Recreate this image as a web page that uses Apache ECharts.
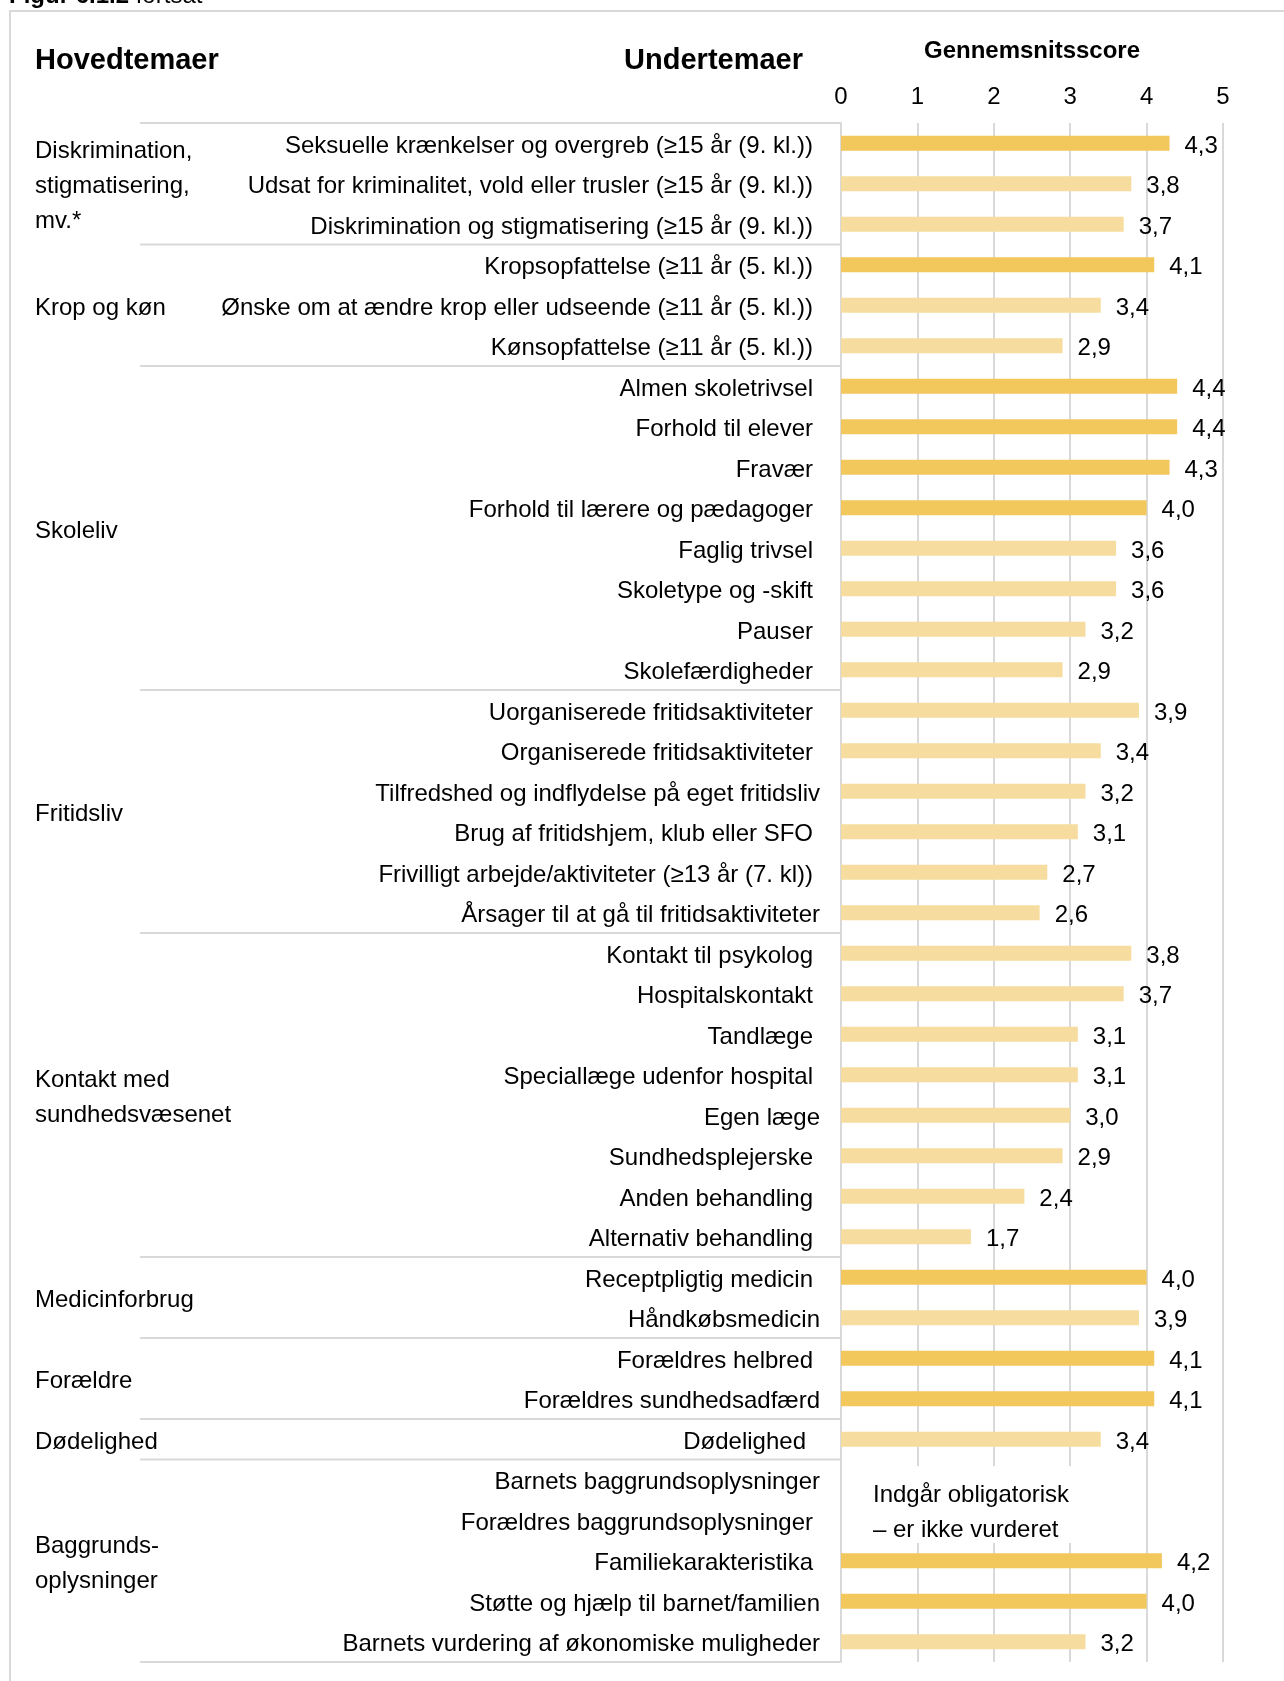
<!DOCTYPE html>
<html>
<head>
<meta charset="utf-8">
<script src="https://cdn.jsdelivr.net/npm/echarts@6/dist/echarts.min.js"></script>
<style>
  html, body { margin: 0; padding: 0; background: #ffffff; }
  #chart { width: 1284px; height: 1681px; }
</style>
</head>
<body>
<div id="chart"></div>
<script>
// Main themes and how many sub-themes each one spans
const themes = [
  'Diskrimination,\nstigmatisering,\nmv.*',
  'Krop og køn',
  'Skoleliv',
  'Fritidsliv',
  'Kontakt med\nsundhedsvæsenet',
  'Medicinforbrug',
  'Forældre',
  'Dødelighed',
  'Baggrunds-\noplysninger'
];
const themeSizes = [3, 3, 8, 6, 8, 2, 2, 1, 5];

// Sub-themes (one bar each)
const subthemes = [
  'Seksuelle krænkelser og overgreb (≥15 år (9. kl.))',
  'Udsat for kriminalitet, vold eller trusler (≥15 år (9. kl.))',
  'Diskrimination og stigmatisering (≥15 år (9. kl.))',
  'Kropsopfattelse (≥11 år (5. kl.))',
  'Ønske om at ændre krop eller udseende (≥11 år (5. kl.))',
  'Kønsopfattelse (≥11 år (5. kl.))',
  'Almen skoletrivsel',
  'Forhold til elever',
  'Fravær',
  'Forhold til lærere og pædagoger',
  'Faglig trivsel',
  'Skoletype og -skift',
  'Pauser',
  'Skolefærdigheder',
  'Uorganiserede fritidsaktiviteter',
  'Organiserede fritidsaktiviteter',
  'Tilfredshed og indflydelse på eget fritidsliv',
  'Brug af fritidshjem, klub eller SFO',
  'Frivilligt arbejde/aktiviteter (≥13 år (7. kl))',
  'Årsager til at gå til fritidsaktiviteter',
  'Kontakt til psykolog',
  'Hospitalskontakt',
  'Tandlæge',
  'Speciallæge udenfor hospital',
  'Egen læge',
  'Sundhedsplejerske',
  'Anden behandling',
  'Alternativ behandling',
  'Receptpligtig medicin',
  'Håndkøbsmedicin',
  'Forældres helbred',
  'Forældres sundhedsadfærd',
  'Dødelighed',
  'Barnets baggrundsoplysninger',
  'Forældres baggrundsoplysninger',
  'Familiekarakteristika',
  'Støtte og hjælp til barnet/familien',
  'Barnets vurdering af økonomiske muligheder'
];

// Average score per sub-theme (null = mandatory, not scored)
const scores = [
  4.3, 3.8, 3.7,
  4.1, 3.4, 2.9,
  4.4, 4.4, 4.3, 4.0, 3.6, 3.6, 3.2, 2.9,
  3.9, 3.4, 3.2, 3.1, 2.7, 2.6,
  3.8, 3.7, 3.1, 3.1, 3.0, 2.9, 2.4, 1.7,
  4.0, 3.9,
  4.1, 4.1,
  3.4,
  null, null, 4.2, 4.0, 3.2
];

const scoreTicks = [0, 1, 2, 3, 4, 5];
const notScoredNote = 'Indgår obligatorisk\n– er ikke vurderet';

const FONT = '"Liberation Sans", Arial, Helvetica, sans-serif';
const FS = 24;
const DROP = 3;          // text sits slightly below the row centre
const LINE = '#d9d9d9';
const STRONG = '#f2c75c';
const SOFT = '#f6dc9e';

// Label alignment tweaks: some labels sit flush to the axis, one sits further in
const flushLabels = new Set([
  'Tilfredshed og indflydelse på eget fritidsliv',
  'Årsager til at gå til fritidsaktiviteter',
  'Egen læge',
  'Håndkøbsmedicin',
  'Forældres sundhedsadfærd',
  'Barnets baggrundsoplysninger',
  'Støtte og hjælp til barnet/familien',
  'Barnets vurdering af økonomiske muligheder'
]);
const deepLabels = new Set(['Dødelighed']);

const fmt = v => v.toFixed(1).replace('.', ',');
const txt = { fontFamily: FONT, fontSize: FS, color: '#000' };

const chart = echarts.init(document.getElementById('chart'), null, { renderer: 'canvas' });

chart.setOption({
  animation: false,
  backgroundColor: '#ffffff',
  grid: { left: 841, right: 61, top: 123, bottom: 19, containLabel: false },
  xAxis: {
    type: 'value',
    position: 'top',
    min: scoreTicks[0],
    max: scoreTicks[scoreTicks.length - 1],
    interval: 1,
    name: 'Gennemsnitsscore',
    nameLocation: 'middle',
    nameGap: 60,
    nameTextStyle: { fontFamily: FONT, fontSize: 24, fontWeight: 'bold', color: '#000' },
    axisLine: { show: false },
    axisTick: { show: false },
    axisLabel: { margin: 14, fontFamily: FONT, fontSize: FS, color: '#000' },
    splitLine: { show: true, lineStyle: { color: LINE, width: 2 } }
  },
  yAxis: {
    type: 'category',
    inverse: true,
    data: subthemes,
    axisLine: { show: true, lineStyle: { color: LINE, width: 2 } },
    axisTick: { show: false },
    axisLabel: {
      margin: 21,
      interval: 0,
      formatter: name => {
        const key = flushLabels.has(name) ? 'f' : deepLabels.has(name) ? 'd' : 'n';
        return '{' + key + '|' + name + '}';
      },
      rich: {
        n: Object.assign({ padding: [DROP * 2, 7, 0, 0] }, txt),
        f: Object.assign({ padding: [DROP * 2, 0, 0, 0] }, txt),
        d: Object.assign({ padding: [DROP * 2, 14, 0, 0] }, txt)
      }
    }
  },
  series: [{
    type: 'bar',
    data: scores.map(v => (v === null ? '-' : v)),
    barWidth: 15,
    itemStyle: {
      color: p => (p.value >= 4 ? STRONG : SOFT)
    },
    label: {
      show: true,
      position: 'right',
      distance: 15,
      offset: [0, DROP],
      fontFamily: FONT,
      fontSize: FS,
      color: '#000',
      formatter: p => fmt(p.value)
    },
    z: 3
  }]
});

// Row geometry from the category axis
const py = i => chart.convertToPixel({ yAxisIndex: 0 }, i);
const step = py(1) - py(0);
const bandTop = i => py(i) - step / 2;
const bandBottom = i => py(i) + step / 2;
const axisX = chart.convertToPixel({ xAxisIndex: 0 }, 0);

const graphics = [];

// Outer frame of the figure
graphics.push({
  type: 'rect', silent: true, z: 1,
  shape: { x: 10, y: 11, width: 2000, height: 3000 },
  style: { fill: 'none', stroke: LINE, lineWidth: 2 }
});

// Figure caption running off the top edge
graphics.push({
  type: 'text', silent: true, z: 1, x: 9, y: -4,
  style: {
    text: '{b|Figur 6.1.2 }{r|fortsat}',
    verticalAlign: 'middle',
    rich: {
      b: { fontFamily: FONT, fontSize: 24, fontWeight: 'bold', fill: '#000' },
      r: { fontFamily: FONT, fontSize: 24, fill: '#000' }
    }
  }
});

// Column headers
graphics.push({
  type: 'text', silent: true, x: 35, y: 61,
  style: { text: 'Hovedtemaer', fontFamily: FONT, fontSize: 29, fontWeight: 'bold', fill: '#000', verticalAlign: 'middle' }
});
graphics.push({
  type: 'text', silent: true, x: 803, y: 61,
  style: { text: 'Undertemaer', fontFamily: FONT, fontSize: 29, fontWeight: 'bold', fill: '#000', align: 'right', verticalAlign: 'middle' }
});

// Theme labels and separators between theme groups
let start = 0;
const sepY = [bandTop(0)];
themes.forEach((theme, k) => {
  const end = start + themeSizes[k] - 1;
  const cy = (py(start) + py(end)) / 2 + DROP;
  graphics.push({
    type: 'text', silent: true, x: 35, y: cy,
    style: { text: theme, fontFamily: FONT, fontSize: FS, fill: '#000', lineHeight: 35, verticalAlign: 'middle' }
  });
  sepY.push(bandBottom(end));
  start = end + 1;
});
sepY.forEach(y => {
  graphics.push({
    type: 'line', silent: true,
    shape: { x1: 140, y1: y, x2: axisX - 1, y2: y },
    style: { stroke: LINE, lineWidth: 2 }
  });
});

// Note over the unscored background rows
const firstNull = scores.indexOf(null);
const noteMid = (py(firstNull) + py(firstNull + 1)) / 2;
graphics.push({
  type: 'rect', silent: true, z: 50,
  shape: { x: axisX + 2, y: noteMid - 34, width: 270, height: 77 },
  style: { fill: '#ffffff' }
});
graphics.push({
  type: 'text', silent: true, z: 51, x: axisX + 32, y: noteMid + 10 + DROP,
  style: { text: notScoredNote, fontFamily: FONT, fontSize: FS, fill: '#000', lineHeight: 35, verticalAlign: 'middle' }
});

chart.setOption({ graphic: graphics });
</script>
</body>
</html>
